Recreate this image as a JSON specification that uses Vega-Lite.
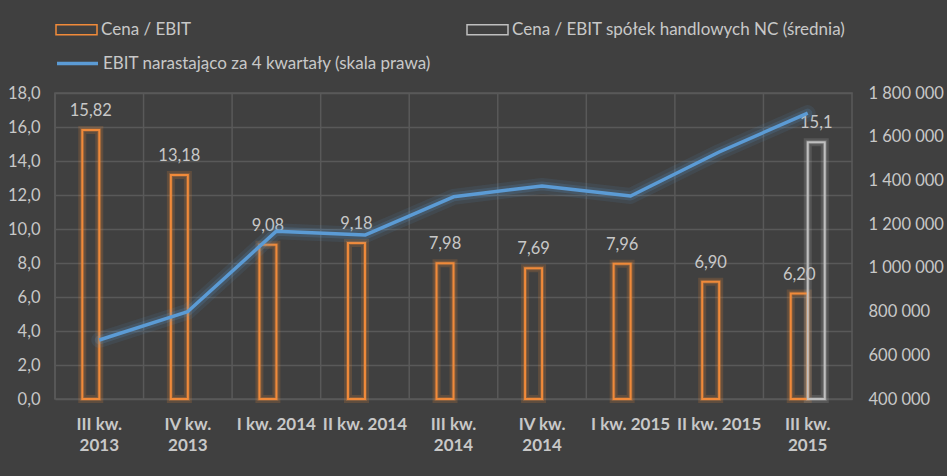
{
  "$schema": "https://vega.github.io/schema/vega-lite/v6.json",
  "width": 797,
  "height": 306,
  "autosize": {"type": "none"},
  "padding": {"left": 55, "top": 93, "right": 95, "bottom": 77},
  "background": "#404040",
  "config": {
    "locale": {"number": {"decimal": ",", "thousands": " ", "grouping": [3], "currency": ["", ""]}},
    "font": "Lato",
    "view": {"stroke": "#595959", "strokeWidth": 1.5},
    "axis": {"labelFont": "Lato", "labelColor": "#c8c8c8", "labelFontSize": 16.5, "domain": false, "ticks": false, "gridColor": "#595959", "gridWidth": 1.5, "title": null},
    "legend": {"labelFont": "Lato", "labelFontSize": 17, "labelColor": "#c8c8c8", "padding": 0, "title": null}
  },
  "datasets": {
    "bars": [
      {"q": "III kw. 2013", "s": "Cena / EBIT", "v": 15.82},
      {"q": "IV kw. 2013", "s": "Cena / EBIT", "v": 13.18},
      {"q": "I kw. 2014", "s": "Cena / EBIT", "v": 9.08},
      {"q": "II kw. 2014", "s": "Cena / EBIT", "v": 9.18},
      {"q": "III kw. 2014", "s": "Cena / EBIT", "v": 7.98},
      {"q": "IV kw. 2014", "s": "Cena / EBIT", "v": 7.69},
      {"q": "I kw. 2015", "s": "Cena / EBIT", "v": 7.96},
      {"q": "II kw. 2015", "s": "Cena / EBIT", "v": 6.90},
      {"q": "III kw. 2015", "s": "Cena / EBIT", "v": 6.20},
      {"q": "III kw. 2015", "s": "Cena / EBIT spółek handlowych NC (średnia)", "v": 15.1}
    ],
    "line": [
      {"q": "III kw. 2013", "s": "EBIT narastająco za 4 kwartały (skala prawa)", "ebit": 670000},
      {"q": "IV kw. 2013", "s": "EBIT narastająco za 4 kwartały (skala prawa)", "ebit": 800000},
      {"q": "I kw. 2014", "s": "EBIT narastająco za 4 kwartały (skala prawa)", "ebit": 1168000},
      {"q": "II kw. 2014", "s": "EBIT narastająco za 4 kwartały (skala prawa)", "ebit": 1150000},
      {"q": "III kw. 2014", "s": "EBIT narastająco za 4 kwartały (skala prawa)", "ebit": 1325000},
      {"q": "IV kw. 2014", "s": "EBIT narastająco za 4 kwartały (skala prawa)", "ebit": 1375000},
      {"q": "I kw. 2015", "s": "EBIT narastająco za 4 kwartały (skala prawa)", "ebit": 1329000},
      {"q": "II kw. 2015", "s": "EBIT narastająco za 4 kwartały (skala prawa)", "ebit": 1530000},
      {"q": "III kw. 2015", "s": "EBIT narastająco za 4 kwartały (skala prawa)", "ebit": 1708000}
    ]
  },
  "layer": [
    {
      "data": {"name": "line"},
      "mark": {"type": "rule", "stroke": "#595959", "strokeWidth": 1.5},
      "encoding": {
        "x": {
          "field": "q", "type": "nominal", "sort": null, "bandPosition": 0,
          "scale": {"paddingInner": 0, "paddingOuter": 0},
          "axis": {
            "orient": "bottom", "grid": false,
            "labelAngle": 0, "labelFontWeight": "bold", "labelFontSize": 17,
            "labelPadding": 17, "labelLineHeight": 21, "labelBaseline": "top",
            "labelExpr": "(indexof(datum.value,'III')==0 || indexof(datum.value,'IV')==0) ? [substring(datum.value,0,length(datum.value)-5), substring(datum.value,length(datum.value)-4)] : datum.value"
          }
        }
      }
    },
    {
      "data": {"name": "bars"},
      "mark": {"type": "bar", "fill": "transparent", "strokeWidth": 8, "strokeOpacity": 0.18},
      "encoding": {
        "x": {"field": "q", "type": "nominal", "sort": null},
        "xOffset": {
          "field": "s", "type": "nominal",
          "scale": {"domain": ["Cena / EBIT", "Cena / EBIT spółek handlowych NC (średnia)"], "paddingInner": 0, "paddingOuter": 0, "range": [27.3, 61.3]}
        },
        "y": {
          "field": "v", "type": "quantitative",
          "scale": {"domain": [0, 18], "nice": false},
          "axis": {"orient": "left", "grid": true, "values": [0, 2, 4, 6, 8, 10, 12, 14, 16, 18], "format": ".1f", "labelPadding": 15}
        },
        "stroke": {
          "field": "s", "type": "nominal",
          "scale": {"domain": ["Cena / EBIT", "Cena / EBIT spółek handlowych NC (średnia)"], "range": ["#F08A3A", "#BFBFBF"]},
          "legend": null
        }
      }
    },
    {
      "data": {"name": "bars"},
      "mark": {"type": "bar", "fill": "transparent", "strokeWidth": 4, "strokeOpacity": 0.25},
      "encoding": {
        "x": {"field": "q", "type": "nominal", "sort": null},
        "xOffset": {"field": "s", "type": "nominal"},
        "y": {"field": "v", "type": "quantitative", "scale": {"domain": [0, 18], "nice": false}, "axis": null},
        "stroke": {
          "field": "s", "type": "nominal",
          "scale": {"domain": ["Cena / EBIT", "Cena / EBIT spółek handlowych NC (średnia)"], "range": ["#F08A3A", "#BFBFBF"]},
          "legend": null
        }
      }
    },
    {
      "data": {"name": "bars"},
      "mark": {"type": "bar", "fill": "transparent", "strokeWidth": 2},
      "encoding": {
        "x": {"field": "q", "type": "nominal", "sort": null},
        "xOffset": {"field": "s", "type": "nominal"},
        "y": {"field": "v", "type": "quantitative", "scale": {"domain": [0, 18], "nice": false}, "axis": null},
        "stroke": {
          "field": "s", "type": "nominal",
          "scale": {"domain": ["Cena / EBIT", "Cena / EBIT spółek handlowych NC (średnia)"], "range": ["#F08A3A", "#BFBFBF"]},
          "legend": {"orient": "none", "legendX": 0, "legendY": -85, "direction": "horizontal", "columns": 2, "columnPadding": 272, "symbolType": "M-1,-0.244H1V0.244H-1Z", "symbolSize": 1681, "symbolStrokeWidth": 1.5, "symbolFillColor": "transparent", "labelOffset": 3, "labelLimit": 400}
        }
      }
    },
    {
      "data": {"name": "bars"},
      "transform": [{"filter": "datum.s == 'Cena / EBIT'"}],
      "mark": {"type": "text", "baseline": "middle", "dy": -19, "fontSize": 16.5, "color": "#c8c8c8", "font": "Lato"},
      "encoding": {
        "x": {"field": "q", "type": "nominal", "sort": null},
        "xOffset": {"field": "s", "type": "nominal"},
        "y": {"field": "v", "type": "quantitative", "scale": {"domain": [0, 18], "nice": false}, "axis": null},
        "text": {"field": "v", "type": "quantitative", "format": ".2f"}
      }
    },
    {
      "data": {"name": "bars"},
      "transform": [{"filter": "datum.s != 'Cena / EBIT'"}],
      "mark": {"type": "text", "baseline": "middle", "dy": -19, "fontSize": 16.5, "color": "#c8c8c8", "font": "Lato"},
      "encoding": {
        "x": {"field": "q", "type": "nominal", "sort": null},
        "xOffset": {"field": "s", "type": "nominal"},
        "y": {"field": "v", "type": "quantitative", "scale": {"domain": [0, 18], "nice": false}, "axis": null},
        "text": {"field": "v", "type": "quantitative", "format": ".1f"}
      }
    },
    {
      "data": {"name": "line"},
      "mark": {"type": "line", "stroke": "#5B9BD5", "strokeWidth": 16, "strokeOpacity": 0.1, "strokeJoin": "round", "strokeCap": "round"},
      "encoding": {
        "x": {"field": "q", "type": "nominal", "sort": null},
        "y": {"field": "ebit", "type": "quantitative", "scale": {"domain": [400000, 1800000], "nice": false}, "axis": null}
      }
    },
    {
      "data": {"name": "line"},
      "mark": {"type": "line", "stroke": "#5B9BD5", "strokeWidth": 9, "strokeOpacity": 0.18, "strokeJoin": "round", "strokeCap": "round"},
      "encoding": {
        "x": {"field": "q", "type": "nominal", "sort": null},
        "y": {"field": "ebit", "type": "quantitative", "scale": {"domain": [400000, 1800000], "nice": false}, "axis": null}
      }
    },
    {
      "data": {"name": "line"},
      "mark": {"type": "line", "strokeWidth": 3.5, "strokeJoin": "round"},
      "encoding": {
        "x": {"field": "q", "type": "nominal", "sort": null},
        "y": {
          "field": "ebit", "type": "quantitative",
          "scale": {"domain": [400000, 1800000], "nice": false},
          "axis": {"orient": "right", "grid": false, "values": [400000, 600000, 800000, 1000000, 1200000, 1400000, 1600000, 1800000], "format": ",d", "labelPadding": 16}
        },
        "stroke": {
          "field": "s", "type": "nominal",
          "scale": {"range": ["#5B9BD5"]},
          "legend": {"orient": "none", "legendX": 0, "legendY": -52, "symbolType": "stroke", "symbolSize": 1681, "symbolStrokeWidth": 3.5, "labelOffset": 3, "labelLimit": 500}
        }
      }
    }
  ],
  "resolve": {"scale": {"y": "independent", "stroke": "independent"}}
}
